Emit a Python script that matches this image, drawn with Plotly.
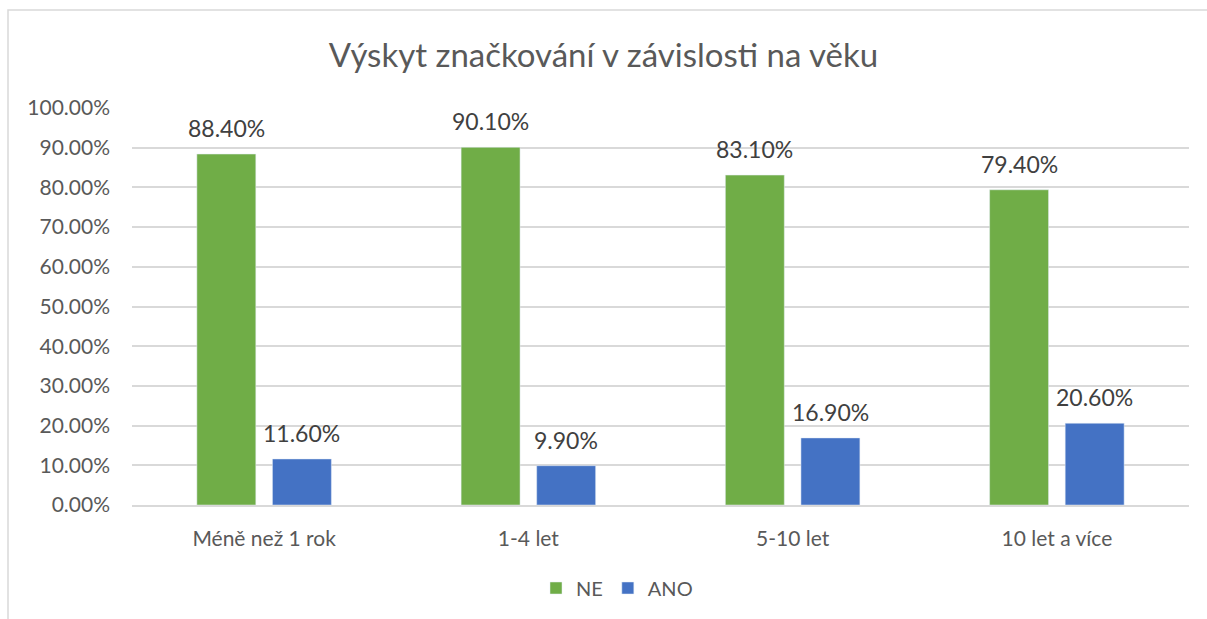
import plotly.graph_objects as go

categories = ["Méně než 1 rok", "1-4 let", "5-10 let", "10 let a více"]
ne_values = [0.884, 0.901, 0.831, 0.794]
ano_values = [0.116, 0.099, 0.169, 0.206]
series_names = ["NE", "ANO"]
tick_values = [i / 10 for i in range(11)]

W, H = 1207, 619
L, R, T, B = 132, 18, 108, 114
pw, ph = W - L - R, H - T - B

def px_to_paper_x(px):
    return (px - L) / pw

def px_to_paper_y(py):
    return (H - B - py) / ph

font_family = "Lato, 'Open Sans', sans-serif"
label_color = "#404040"

fig = go.Figure()
fig.add_trace(go.Bar(
    x=categories, y=ne_values, name=series_names[0],
    marker_color="#70AD47",
))
fig.add_trace(go.Bar(
    x=categories, y=ano_values, name=series_names[1],
    marker_color="#4472C4",
))

# data labels above bars (offset to each bar of the group)
annotations = []
bar_offset = 37.75
for vals, sh in ((ne_values, -bar_offset), (ano_values, bar_offset)):
    for c, v in zip(categories, vals):
        annotations.append(dict(
            x=c, y=v, xref="x", yref="y", text=f"{v*100:.2f}%",
            showarrow=False, xanchor="center", yanchor="bottom",
            xshift=sh, yshift=10,
            font=dict(size=23, color=label_color, family=font_family),
        ))

fig.update_layout(
    width=W, height=H,
    margin=dict(l=L, r=R, t=T, b=B),
    paper_bgcolor="white", plot_bgcolor="white",
    barmode="group", bargap=0.428, bargroupgap=0.22,
    title=dict(
        text="Výskyt značkování v závislosti na věku",
        x=0.5, xanchor="center", y=1 - 55 / H, yanchor="middle",
        font=dict(size=33, color="#595959", family=font_family),
    ),
    font=dict(family=font_family, color="#595959"),
    xaxis=dict(
        showgrid=False, showline=True, linecolor="#D9D9D9", linewidth=1.5,
        tickfont=dict(size=21, color="#595959"), ticks="", ticklabelstandoff=14,
    ),
    yaxis=dict(
        range=[0, 1], tickvals=tick_values, tickformat=".2%",
        showgrid=True, gridcolor="#D9D9D9", gridwidth=1.5,
        zeroline=False, showline=False, ticks="",
        tickfont=dict(size=21, color="#595959"),
        ticklabelstandoff=21,
    ),
    legend=dict(
        orientation="h", x=px_to_paper_x(617), xanchor="center",
        y=px_to_paper_y(588), yanchor="middle",
        font=dict(size=20, color="#595959"),
        itemwidth=30, traceorder="normal",
    ),
    showlegend=True,
    annotations=annotations,
    shapes=[dict(
        type="rect", xref="paper", yref="paper",
        x0=px_to_paper_x(8), x1=px_to_paper_x(1212),
        y0=px_to_paper_y(625), y1=px_to_paper_y(10),
        line=dict(color="#D9D9D9", width=1.5), fillcolor="rgba(0,0,0,0)",
        layer="below",
    )],
)

fig.write_html(
    "out.html",
    config={"displayModeBar": False},
    post_script="document.body.style.margin='0';document.body.style.overflow='hidden';",
)
